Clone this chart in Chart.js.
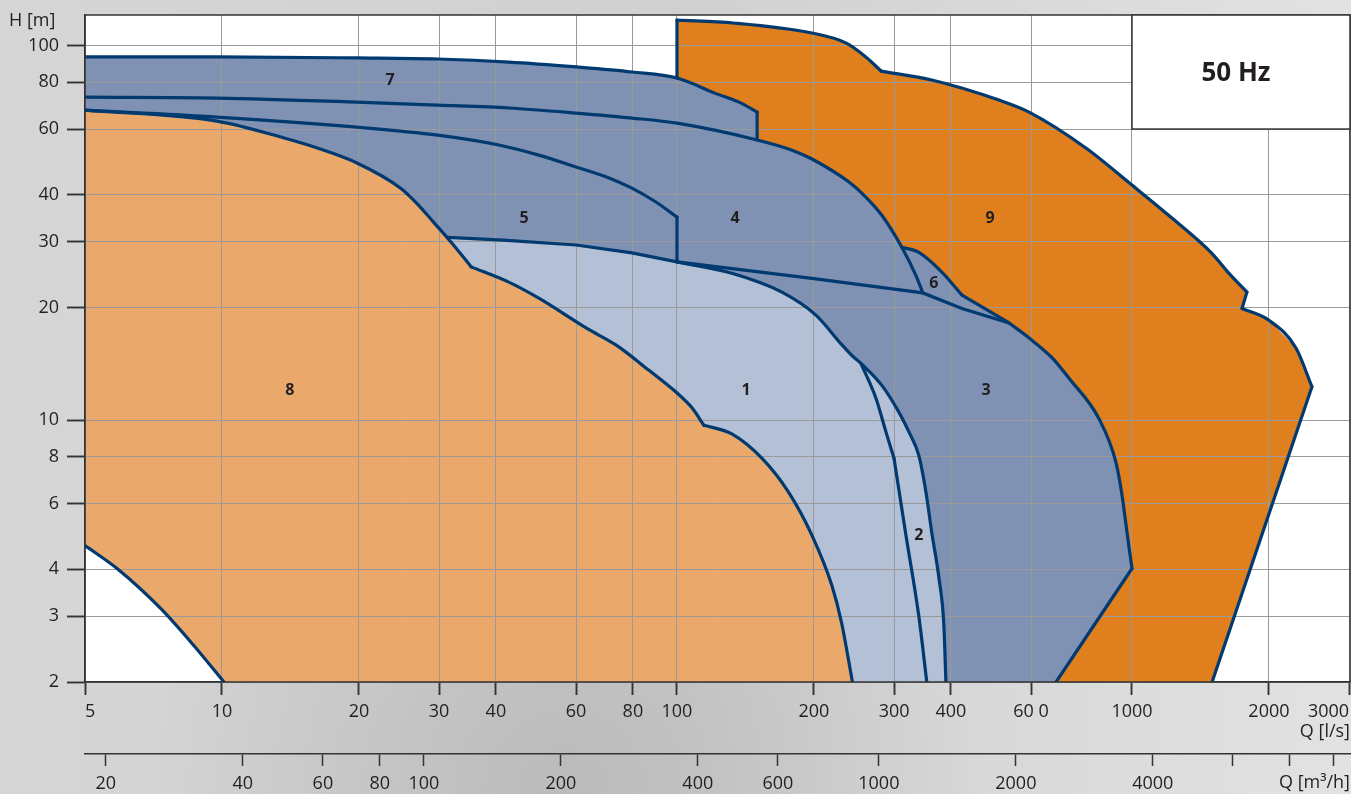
<!DOCTYPE html>
<html>
<head>
<meta charset="utf-8">
<title>Pump range chart 50 Hz</title>
<script src="https://cdn.jsdelivr.net/npm/chart.js@4.4.1/dist/chart.umd.min.js"></script>
<style>
  html, body { margin: 0; padding: 0; background: #d8d8d8; }
  canvas { display: block; }
</style>
</head>
<body>
<canvas id="range-chart" width="1351" height="794"></canvas>
<script>
// Axis ticks
const qTicks = [5, 10, 20, 30, 40, 60, 80, 100, 200, 300, 400, 600, 1000, 2000, 3000];
const qTickLabels = ['5', '10', '20', '30', '40', '60', '80', '100', '200', '300', '400', '60 0', '1000', '2000', '3000'];
const m3hTicks = [20, 40, 60, 80, 100, 200, 400, 600, 1000, 2000, 4000, 6000, 8000, 10000];
const m3hTickLabels = ['20', '40', '60', '80', '100', '200', '400', '600', '1000', '2000', '4000', '', '', ''];
const hTicks = [2, 3, 4, 6, 8, 10, 20, 30, 40, 60, 80, 100];
const hTickLabels = ['2', '3', '4', '6', '8', '10', '20', '30', '40', '60', '80', '100'];

const Q_MIN = 5, Q_MAX = 3014, H_MIN = 2, H_MAX = 121;

// Range boundaries, each point is [Q in l/s, H in m]
const cutoutEdge = [[5, 4.63], [5.88, 4.02], [7.34, 3.14], [8.68, 2.5], [10.1, 2.0]];
const curve8 = [[5, 67.4], [9.75, 63.0], [13.7, 56.8], [16.2, 53.4], [19.8, 48.7], [24.7, 41.7], [26.8, 38.0],
  [29.2, 33.8], [31.9, 29.9], [35.3, 25.7], [42.7, 23.4], [49.7, 21.2], [63.4, 17.6], [73.4, 15.9], [86.8, 13.6],
  [99.5, 11.9], [107.9, 10.8], [114.6, 9.7], [132, 9.2], [154, 7.9], [176, 6.42], [198, 4.93], [219, 3.62],
  [230, 2.88], [243, 2.0]];
const curve5Top = [[5, 67.4], [9.75, 64.6], [19.8, 60.7], [29.8, 57.8], [40.6, 54.4], [49.7, 51.1], [60, 47.5],
  [70.9, 44.4], [79.6, 41.7], [89.9, 38.3], [100, 34.9], [100, 26.5]];
const curve7Top = [[5, 93.5], [9.75, 93.5], [19.8, 92.9], [29.8, 92.3], [42.7, 90.6], [60, 87.9], [79.6, 85.2],
  [100, 82.1], [121.8, 74.6], [136.9, 70.8], [150, 66.6], [150, 56.1]];
const curve4Top = [[5, 73.0], [9.75, 72.6], [19.8, 70.8], [29.8, 69.5], [42.7, 68.3], [60, 66.2], [79.6, 64.2],
  [100, 62.2], [150, 56.1], [179, 52.7], [198, 49.9], [238.8, 43.3], [260, 39.5], [282, 35.3], [312, 29.0],
  [335, 24.4], [347, 21.9]];
const line5Bottom = [[31.3, 30.8], [41.5, 30.3], [60, 29.4], [79.6, 28.0], [100, 26.5]];
const line4Bottom = [[100, 26.5], [200, 23.9], [347, 21.9], [423, 19.9], [537, 18.2]];
const curve1Right = [[100, 26.5], [132, 24.7], [170, 22.0], [202, 19.1], [230.5, 15.9], [242.4, 14.9], [253.7, 14.2]];
const curve2Right = [[253.7, 14.2], [282, 12.4], [307.6, 10.5], [323.6, 9.3], [340, 8.06], [352.6, 6.42],
  [363, 5.02], [376.6, 3.78], [386, 2.83], [390, 2.0]];
const curve2Left = [[253.7, 14.2], [273.7, 11.45], [288, 9.3], [300, 7.91], [318, 5.0], [340, 3.0], [354, 2.0]];
const curve6 = [[312, 29.0], [340, 28.1], [382, 24.9], [423, 21.6], [537, 18.2]];
const curve3Right = [[537, 18.2], [594, 16.6], [667, 14.7], [727, 12.95], [846, 10.1], [922, 7.72], [951, 6.3],
  [975, 5.02], [1000, 4.02], [681, 2.0]];
const curve9Edge = [[100, 82.1], [100, 117.3], [133, 115.2], [198, 108.3], [235, 101.9], [260, 93.5], [281, 85.7],
  [363, 81.1], [510, 71.7], [594, 66.6], [792, 53.4], [1000, 42.5], [1224, 34.7], [1500, 27.9], [1634, 24.7],
  [1789, 22.0], [1745, 19.9], [2000, 18.5], [2293, 15.6], [2486, 12.3], [1500, 2.0]];

// Region numbers and where they sit
const regionNames = ['1', '2', '3', '4', '5', '6', '7', '8', '9'];
const regionQ = [141.8, 340, 477.6, 134.1, 46.1, 367, 23.4, 14.1, 487.4];
const regionH = [12.0, 4.93, 12.0, 34.7, 34.7, 23.2, 81.1, 12.0, 34.7];

const NAVY = '#003a70';
const FONT = "'Open Sans', 'Noto Sans', sans-serif";
const TEXT = '#231f20';

const toPoints = pts => pts.map(([x, y]) => ({ x, y }));

function area(points, color, order) {
    return {
        data: toPoints(points),
        fill: 'shape',
        backgroundColor: color,
        borderColor: 'transparent',
        borderWidth: 0,
        pointRadius: 0,
        tension: 0,
        order: order,
        clip: 0
    };
}

function edge(points, smooth) {
    return {
        data: toPoints(points),
        fill: false,
        borderColor: NAVY,
        borderWidth: 3.2,
        borderCapStyle: 'round',
        pointRadius: 0,
        tension: 0,
        cubicInterpolationMode: smooth ? 'monotone' : 'default',
        order: 0,
        clip: 0
    };
}

// closed shapes, built from the boundaries above
const orangeArea = [...curve9Edge, [681, 2], [100, 2]];
const blueArea = [...curve7Top, ...curve4Top.slice(9, 15), ...curve6.slice(1), ...curve3Right.slice(1),
  ...curve8.slice().reverse()];
const lightArea = [...line5Bottom, ...curve1Right.slice(1), ...curve2Right.slice(1), ...curve8.slice(8).reverse()];
const area8 = [...curve8, ...cutoutEdge.slice().reverse()];

const datasets = [
    area(orangeArea, '#df7f1d', 4),
    area(blueArea, '#7f92b4', 3),
    area(lightArea, '#b4c0d5', 2),
    area(area8, '#eaa96b', 1),

    // outlines, split where the drawing has a corner
    edge(cutoutEdge, true),
    edge(curve8.slice(0, 10), true),
    edge(curve8.slice(9, 18), true),
    edge(curve8.slice(17), true),
    edge(curve5Top.slice(0, 11), true),
    edge(curve5Top.slice(10), false),
    edge(curve7Top.slice(0, 11), true),
    edge(curve7Top.slice(10), false),
    edge(curve4Top, true),
    edge([...line5Bottom, ...line4Bottom.slice(1)], false),
    edge([...curve1Right, ...curve2Right.slice(1)], true),
    edge(curve2Left.slice(0, 4), true),
    edge(curve2Left.slice(3), true),
    edge(curve6.slice(0, 4), true),
    edge(curve6.slice(3), false),
    edge(curve3Right.slice(0, 9), true),
    edge(curve3Right.slice(8), false),
    edge(curve9Edge.slice(0, 2), false),
    edge(curve9Edge.slice(1, 7), true),
    edge(curve9Edge.slice(6, 16), true),
    edge(curve9Edge.slice(15, 17), false),
    edge(curve9Edge.slice(16, 20), true),
    edge(curve9Edge.slice(19), false)
];

const chartDecor = {
    id: 'chartDecor',
    beforeDraw(chart) {
        const { ctx, width, height, chartArea: a } = chart;
        ctx.save();
        const g = ctx.createLinearGradient(0, 0, width, 0);
        g.addColorStop(0, '#d6d6d6');
        g.addColorStop(0.5, '#d0d0d0');
        g.addColorStop(1, '#e2e2e2');
        ctx.fillStyle = g;
        ctx.fillRect(0, 0, width, height);
        const b = ctx.createRadialGradient(560, 790, 20, 560, 790, 420);
        b.addColorStop(0, 'rgba(170,170,170,0.55)');
        b.addColorStop(1, 'rgba(170,170,170,0)');
        ctx.fillStyle = b;
        ctx.fillRect(0, a.bottom, width, height - a.bottom);
        ctx.fillStyle = '#ffffff';
        ctx.fillRect(a.left, a.top, a.right - a.left, a.bottom - a.top);
        ctx.restore();
    },
    // fills are painted by the filler before this hook, so the grid lands on top of them
    beforeDatasetsDraw(chart) {
        chart.scales.x.drawGrid(chart.chartArea);
        chart.scales.y.drawGrid(chart.chartArea);
    },
    afterDatasetsDraw(chart) {
        const { ctx, chartArea: a, scales: { x, y } } = chart;
        ctx.save();
        ctx.font = `bold 16px ${FONT}`;
        ctx.fillStyle = TEXT;
        ctx.textAlign = 'center';
        ctx.textBaseline = 'middle';
        regionNames.forEach((name, i) => {
            ctx.fillText(name, x.getPixelForValue(regionQ[i]), y.getPixelForValue(regionH[i]));
        });

        // frame round the plot
        ctx.strokeStyle = '#333';
        ctx.lineWidth = 1.5;
        ctx.strokeRect(a.left, a.top, a.right - a.left, a.bottom - a.top);

        // frequency box
        const bx = x.getPixelForValue(1000);
        const by = y.getPixelForValue(60);
        ctx.fillStyle = '#ffffff';
        ctx.fillRect(bx, a.top, a.right - bx, by - a.top);
        ctx.strokeRect(bx, a.top, a.right - bx, by - a.top);
        ctx.fillStyle = TEXT;
        ctx.font = `bold 26px ${FONT}`;
        ctx.fillText('50 Hz', (bx + a.right) / 2 - 5, (a.top + by) / 2 + 2);
        ctx.restore();
    },
    afterDraw(chart) {
        const ctx = chart.ctx;
        ctx.save();
        ctx.font = `18px ${FONT}`;
        ctx.fillStyle = TEXT;
        ctx.textAlign = 'left';
        ctx.textBaseline = 'middle';
        ctx.fillText('H [m]', 9, 21);
        ctx.restore();
    }
};

const tickFont = { family: FONT, size: 18 };

new Chart(document.getElementById('range-chart'), {
    type: 'line',
    data: { datasets },
    options: {
        responsive: false,
        animation: false,
        devicePixelRatio: 1,
        events: [],
        layout: { padding: { top: 15, right: 1, left: 0, bottom: 0 } },
        plugins: {
            legend: { display: false },
            tooltip: { enabled: false },
            filler: { drawTime: 'beforeDatasetsDraw' }
        },
        scales: {
            x: {
                type: 'logarithmic',
                position: 'bottom',
                weight: 0,
                min: Q_MIN,
                max: Q_MAX,
                afterBuildTicks: s => { s.ticks = qTicks.map(v => ({ value: v })); },
                afterFit: s => { s.height = 72; },
                ticks: {
                    callback: (v, i) => qTickLabels[i],
                    autoSkip: false,
                    maxRotation: 0,
                    align: 'inner',
                    padding: 0,
                    color: TEXT,
                    font: { family: FONT, size: 18, lineHeight: 1.9 }
                },
                grid: { color: '#9a9a9a', lineWidth: 1, tickLength: 13, tickColor: '#333', tickWidth: 1.5 },
                border: { color: '#333', width: 1.5 },
                title: { display: true, text: 'Q [l/s]', align: 'end', color: TEXT, font: tickFont, padding: { top: 0, bottom: 11 } }
            },
            x2: {
                type: 'logarithmic',
                position: 'bottom',
                weight: 1,
                min: Q_MIN * 3.6,
                max: Q_MAX * 3.6,
                afterBuildTicks: s => { s.ticks = m3hTicks.map(v => ({ value: v })); },
                afterFit: s => { s.height = 40; },
                ticks: {
                    callback: (v, i) => m3hTickLabels[i],
                    autoSkip: false,
                    maxRotation: 0,
                    padding: 7,
                    color: TEXT,
                    font: tickFont
                },
                grid: { drawOnChartArea: false, tickLength: 12, tickColor: '#333', tickWidth: 1.5 },
                border: { color: '#333', width: 1.5 },
                title: { display: true, text: 'Q [m³/h]', align: 'end', color: TEXT, font: tickFont, padding: { top: 0, bottom: 0 } }
            },
            y: {
                type: 'logarithmic',
                min: H_MIN,
                max: H_MAX,
                afterBuildTicks: s => { s.ticks = hTicks.map(v => ({ value: v })); },
                afterFit: s => { s.width = 85; },
                ticks: {
                    callback: (v, i) => hTickLabels[i],
                    autoSkip: false,
                    padding: 8,
                    color: TEXT,
                    font: { family: FONT, size: 18, lineHeight: 0.6 }
                },
                grid: { color: '#9a9a9a', lineWidth: 1, tickLength: 18, tickColor: '#333', tickWidth: 1.5 },
                border: { color: '#333', width: 1.5 }
            }
        }
    },
    plugins: [chartDecor]
});
</script>
</body>
</html>
